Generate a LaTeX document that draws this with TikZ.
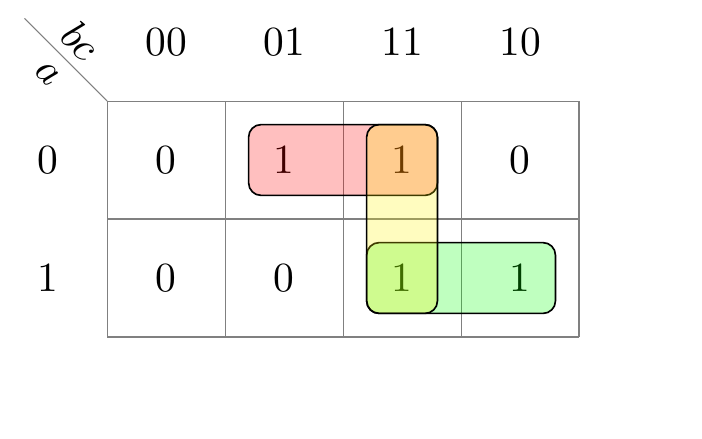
\documentclass[tikz,border=0pt]{standalone}
\usepackage{amsmath}
\usepackage{tikz}

\begin{document}
\begin{tikzpicture}

	\useasboundingbox (-0.907,-0.856) rectangle (5.042,2.856);

	\draw[gray, line width=0.25pt] (0,0) grid (4,2);
	\coordinate (corner) at (0, 2);
	\coordinate (diag) at (-0.7, 2.7);
	\draw[gray, line width=0.25pt] (corner) -- (diag);

	\node[rotate=-45] (bc) at (-0.22, 2.51) {$bc$};
	\node[rotate=-45] (a) at (-0.5, 2.23) {$a$};

	\node (h00) at (0.5, 2.5) {00};
	\node (h01) at (1.5, 2.5) {01};
	\node (h11) at (2.5, 2.5) {11};
	\node (h10) at (3.5, 2.5) {10};
	\node (r0) at (-0.5, 1.5) {0};
	\node (r1) at (-0.5, 0.5) {1};

	\node (c000) at (0.5, 1.5) {0};
	\node (c001) at (1.5, 1.5) {1};
	\node (c011) at (2.5, 1.5) {1};
	\node (c010) at (3.5, 1.5) {0};
	\node (c100) at (0.5, 0.5) {0};
	\node (c101) at (1.5, 0.5) {0};
	\node (c111) at (2.5, 0.5) {1};
	\node (c110) at (3.5, 0.5) {1};

	\draw[rounded corners=3pt, fill=red, fill opacity=0.25] (1.2, 1.2) rectangle (2.8, 1.8);
	\draw[rounded corners=3pt, fill=green, fill opacity=0.25] (2.2, 0.2) rectangle (3.8, 0.8);
	\draw[rounded corners=3pt, fill=yellow, fill opacity=0.25] (2.2, 0.2) rectangle (2.8, 1.8);

\end{tikzpicture}
\end{document}
